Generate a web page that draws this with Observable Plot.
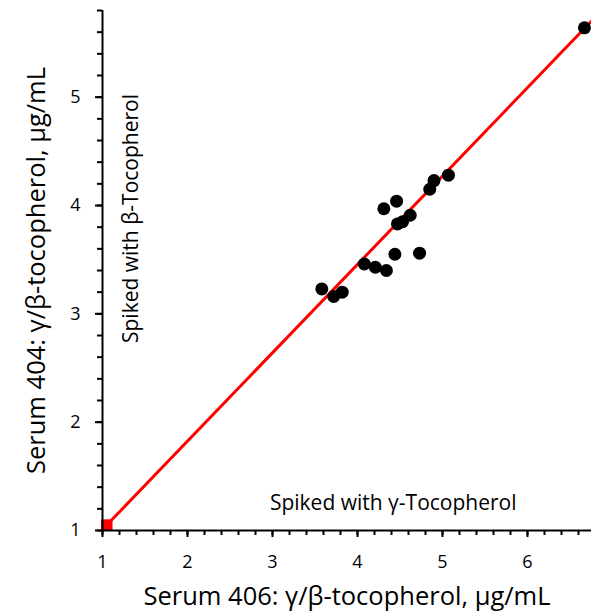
<!DOCTYPE html>
<html>
<head>
<meta charset="utf-8">
<script src="https://cdn.jsdelivr.net/npm/d3@7"></script>
<script src="https://cdn.jsdelivr.net/npm/@observablehq/plot@0.6"></script>
<style>
  html, body { margin: 0; padding: 0; background: #fff; }
  #chart svg { display: block; }
</style>
</head>
<body>
<div id="chart"></div>
<script>
// Serum 406 (x) vs Serum 404 (y), γ/β-tocopherol, µg/mL
const serum406 = [3.58, 3.72, 3.82, 4.08, 4.21, 4.34, 4.44, 4.73, 4.31, 4.46, 4.47, 4.53, 4.62, 4.85, 4.90, 5.07, 6.67];
const serum404 = [3.23, 3.16, 3.20, 3.46, 3.43, 3.40, 3.55, 3.56, 3.97, 4.04, 3.83, 3.85, 3.91, 4.15, 4.23, 4.28, 5.64];

// fitted line end points
const lineX = [1.05, 6.8];
const lineY = [1.05, 5.74];

// unspiked reference marker
const markerX = [1.05];
const markerY = [1.05];

const xMajor = [1, 2, 3, 4, 5, 6];
const yMajor = [1, 2, 3, 4, 5];
const xMinor = d3.range(1, 6.75, 0.2);
const yMinor = d3.range(1, 5.81, 0.2);

const annotations = [
  {text: "Spiked with γ-Tocopherol", x: 4.42, y: 1.25, rotate: 0},
  {text: "Spiked with β-Tocopherol", x: 1.34, y: 3.88, rotate: -90}
];

const points = serum406.map((x, i) => ({x, y: serum404[i]}));
const line = lineX.map((x, i) => ({x, y: lineY[i]}));
const marker = markerX.map((x, i) => ({x, y: markerY[i]}));

const font = "'Open Sans', sans-serif";

const chart = Plot.plot({
  width: 591,
  height: 612,
  marginLeft: 102,
  marginRight: 0,
  marginTop: 10,
  marginBottom: 82,
  style: {fontFamily: font, background: "#fff", color: "#000"},
  x: {domain: [1, 6.753], label: null},
  y: {domain: [1, 5.8], label: null},
  marks: [
    Plot.line(line, {x: "x", y: "y", stroke: "#ff0000", strokeWidth: 3, clip: true}),
    Plot.dot(marker, {x: "x", y: "y", symbol: "square", r: 6.5, fill: "#ff0000", stroke: "none"}),
    Plot.dot(points, {x: "x", y: "y", r: 6.5, fill: "#000", stroke: "none"}),
    Plot.axisX({ticks: xMinor, tickSize: 5, tickFormat: () => "", strokeWidth: 2}),
    Plot.axisX({ticks: xMajor, tickSize: 7, tickPadding: 18, fontSize: 18, strokeWidth: 2, tickFormat: d3.format("d")}),
    Plot.axisY({ticks: yMinor, tickSize: 5, tickFormat: () => "", strokeWidth: 2}),
    Plot.axisY({ticks: yMajor, tickSize: 7, tickPadding: 15, fontSize: 18, strokeWidth: 2, tickFormat: d3.format("d")}),
    Plot.ruleX([1], {stroke: "#000", strokeWidth: 2}),
    Plot.ruleY([1], {stroke: "#000", strokeWidth: 2}),
    Plot.text(annotations, {x: "x", y: "y", text: "text", rotate: "rotate", fontSize: 21, fill: "#000"}),
    Plot.text(["Serum 406: γ/β-tocopherol, µg/mL"], {frameAnchor: "bottom", textAnchor: "middle", lineAnchor: "middle", dy: 66, fontSize: 25.5, fill: "#000"}),
    Plot.text(["Serum 404: γ/β-tocopherol, µg/mL"], {frameAnchor: "left", textAnchor: "middle", dx: -66, rotate: -90, fontSize: 25.5, fill: "#000"})
  ]
});

document.getElementById("chart").appendChild(chart);
</script>
</body>
</html>
